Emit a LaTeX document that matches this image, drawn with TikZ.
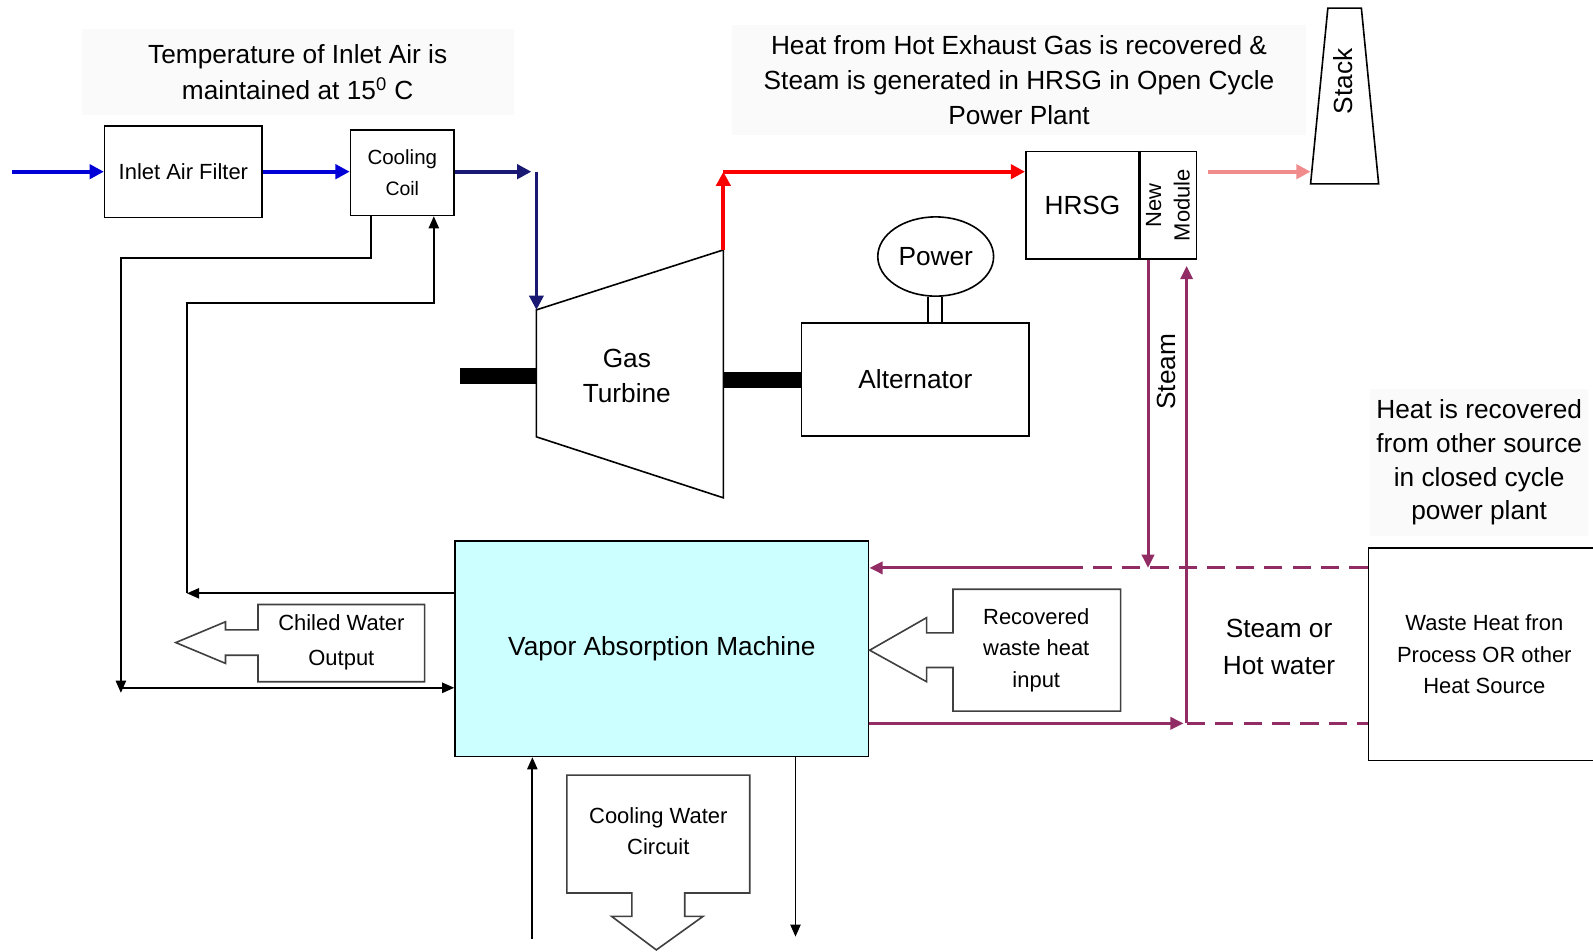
\documentclass[tikz,border=0pt]{standalone}
\usepackage{fontspec}
\setmainfont{Liberation Sans}
\definecolor{airblue}{RGB}{0,0,215}
\definecolor{airnavy}{RGB}{25,25,115}
\definecolor{hotred}{RGB}{250,0,0}
\definecolor{fluepink}{RGB}{240,140,140}
\definecolor{steamplum}{RGB}{145,45,100}
\definecolor{vamcyan}{RGB}{204,255,255}
\usetikzlibrary{arrows.meta,positioning,shapes.geometric,calc}
\newcommand{\bigtxt}{\fontsize{14.7}{20}\selectfont}
\newcommand{\smalltxt}{\fontsize{12.3}{18}\selectfont}
\tikzset{
  box/.style={rectangle,draw=black,line width=0.9pt,fill=white,
              text=black,font=\smalltxt,align=center,inner sep=0pt},
  note/.style={align=center,inner sep=0pt,font=\bigtxt},
  haze/.style={note,fill=black!2},
  flowbox/.style={draw=black!75,line width=0.9pt,fill=white,line join=miter},
  arr/.style={-{Triangle[length=2.8mm,width=2.8mm]},line width=2.2pt,#1},
  arr/.default=airblue,
  wire/.style={-{Triangle[length=2.4mm,width=2mm]},line width=1.1pt,black},
  pipe/.style={-{Triangle[length=2.6mm,width=2.4mm]},line width=1.7pt,steamplum},
  hotline/.style={steamplum,line width=1.7pt,dash pattern=on 3.6mm off 2mm},
  shaft/.style={line width=3mm,black},
}

\begin{document}
\begin{tikzpicture}[x=0.2mm,y=-0.2mm]
  \useasboundingbox (0,0) rectangle (1568,937);

  \node[haze,minimum width=85mm,minimum height=16.8mm] (tinlet) at (293,71)
        {Temperature of Inlet Air is\\maintained at 15\textsuperscript{0} C};
  \node[haze,minimum width=113mm,minimum height=21.6mm,font=\fontsize{14.7}{19.6}\selectfont]
        (thrsg) at (1003,79) {Heat from Hot Exhaust Gas is recovered \&\\
        Steam is generated in HRSG in Open Cycle\\Power Plant};
  \node[haze,minimum width=43mm,minimum height=29mm,font=\fontsize{14.7}{19}\selectfont]
        (tclosed) at (1456,455) {Heat is recovered\\from other source\\in closed cycle\\power plant};

  \node[box,minimum width=31mm,minimum height=18mm] (filter) at (180.5,169) {Inlet Air Filter};
  \node[box,minimum width=20.4mm,minimum height=16.8mm,font=\fontsize{11.5}{17}\selectfont]
        (coil) at (396,170) {Cooling\\{\fontsize{10.9}{13}\selectfont Coil}};

  \draw[line width=0.9pt,fill=white] (528,305) -- (712,246) -- (712,490) -- (528,430) -- cycle;
  \node[note,font=\fontsize{14.7}{19.3}\selectfont] (gt) at (617,370) {Gas\\Turbine};
  \coordinate (gtin) at (528,305);
  \coordinate (gtout) at (712,246);
  \coordinate (exh) at (712,169);

  \node[box,minimum width=44.8mm,minimum height=22.2mm,font=\bigtxt] (alt) at (901,373.5) {Alternator};
  \node[ellipse,draw=black,line width=0.9pt,minimum width=22.8mm,minimum height=15.6mm,
        inner sep=0pt,font=\bigtxt] (power) at (921,252.5) {Power};

  \node[box,minimum width=22.3mm,minimum height=21.2mm,font=\bigtxt] (hrsg) at (1065.5,202) {HRSG};
  \node[box,minimum width=21.2mm,minimum height=11.3mm,rotate=90,
        font=\fontsize{12.3}{16}\selectfont] (module) at (1149.5,202) {New\\Module};

  \draw[line width=0.9pt,fill=white] (1307,8) -- (1340,8) -- (1357,181) -- (1290,181) -- cycle;
  \node[note,rotate=90] (stack) at (1322,80) {Stack};
  \coordinate (stk) at (1290,169);

  \node[box,fill=vamcyan,minimum width=81.4mm,minimum height=42.4mm,font=\bigtxt]
        (vam) at (651.5,638.5) {Vapor Absorption Machine};
  \node[box,minimum width=45.6mm,minimum height=41.8mm,font=\fontsize{12.3}{17.5}\selectfont]
        (waste) at (1461,644) {Waste Heat fron\\Process OR other\\Heat Source};

  \draw[flowbox] (254,595) -- (418,595) -- (418,671) -- (254,671) -- (254,645) -- (222,645)
        -- (222,653) -- (173,632.5) -- (222,612) -- (222,620) -- (254,620) -- cycle;
  \node[note,font=\fontsize{12.3}{19.5}\selectfont] (chw) at (336,632) {Chiled Water\\Output};
  \draw[flowbox] (938,580) -- (1103,580) -- (1103,700) -- (938,700) -- (938,657) -- (912,657)
        -- (912,671) -- (856,640) -- (912,608) -- (912,623) -- (938,623) -- cycle;
  \node[note,font=\fontsize{12.3}{17.8}\selectfont] (rwh) at (1020,640) {Recovered\\waste heat\\input};
  \draw[flowbox] (558,763) -- (738,763) -- (738,879) -- (674,879) -- (674,902) -- (692,902)
        -- (646,935) -- (602,902) -- (622,902) -- (622,879) -- (558,879) -- cycle;
  \node[note,font=\fontsize{12.3}{17.5}\selectfont] (cwc) at (648,818) {Cooling Water\\Circuit};

  \node[note,font=\fontsize{14.7}{21}\selectfont] (sohw) at (1259,637) {Steam or\\Hot water};
  \node[note,rotate=90] (steam) at (1148,366) {Steam};

  \coordinate (airin) at (12,169);
  \coordinate (retL) at (119,254);
  \coordinate (chwin) at (119,677);
  \coordinate (chwout) at (184,584);
  \coordinate (supL) at (184,298);
  \coordinate (cwin) at (524,924);
  \coordinate (cwout) at (783,922);
  \coordinate (steamdown) at (1130,559);
  \coordinate (steamup) at (1168,712);
  \coordinate (hwin) at (1051,559);

  \draw[arr] (airin) -- (filter.west);
  \draw[arr] (filter.east) -- (filter.east -| coil.west);
  \draw[arr=airnavy] (coil.east |- airin) -- ([xshift=-1mm]airin -| gtin);
  \draw[arr=airnavy,line width=1.6pt] (airin -| gtin) -- (gtin);
  \draw[arr=hotred] (gtout) -- (exh);
  \draw[arr=hotred] (exh) -- (exh -| hrsg.west);
  \draw[arr=fluepink] ([xshift=2mm]exh -| module.south) -- (stk);
  \draw[line width=1.6pt] (hrsg.north east) -- (hrsg.south east);

  \draw[shaft] (453,370) -- (gtin |- 0,370);
  \draw[shaft] (712,374) -- (alt.west |- 0,374);
  \foreach \dx in {-1.5mm,1.3mm}{
    \draw[line width=0.9pt] ([xshift=\dx]power.south) -- ([xshift=\dx]power.south |- alt.north);
  }

  \draw[pipe] (hrsg.south east -| steamdown) -- (steamdown);
  \draw[pipe] (steamup) -- ([yshift=-1.2mm]hrsg.south east -| steamup);
  \draw[pipe] (hwin) -- (vam.east |- hwin);
  \draw[hotline] (waste.west |- hwin) -- (hwin);
  \draw[pipe] (vam.east |- steamup) -- ([xshift=-0.6mm]steamup);
  \draw[hotline] (steamup) -- (waste.west |- steamup);

  \draw[wire] ([xshift=-6.2mm]coil.south) |- (retL) -- ([yshift=-1mm]chwin);
  \draw[wire] (chwin) -- (chwin -| vam.west);
  \draw[wire] (vam.west |- chwout) -- (chwout);
  \draw[wire] (chwout) -- (supL) -| ([xshift=6.2mm]coil.south);
  \draw[wire] (cwin) -- (cwin |- vam.south);
  \draw[wire] (cwout |- vam.south) -- (cwout);

\end{tikzpicture}
\end{document}
